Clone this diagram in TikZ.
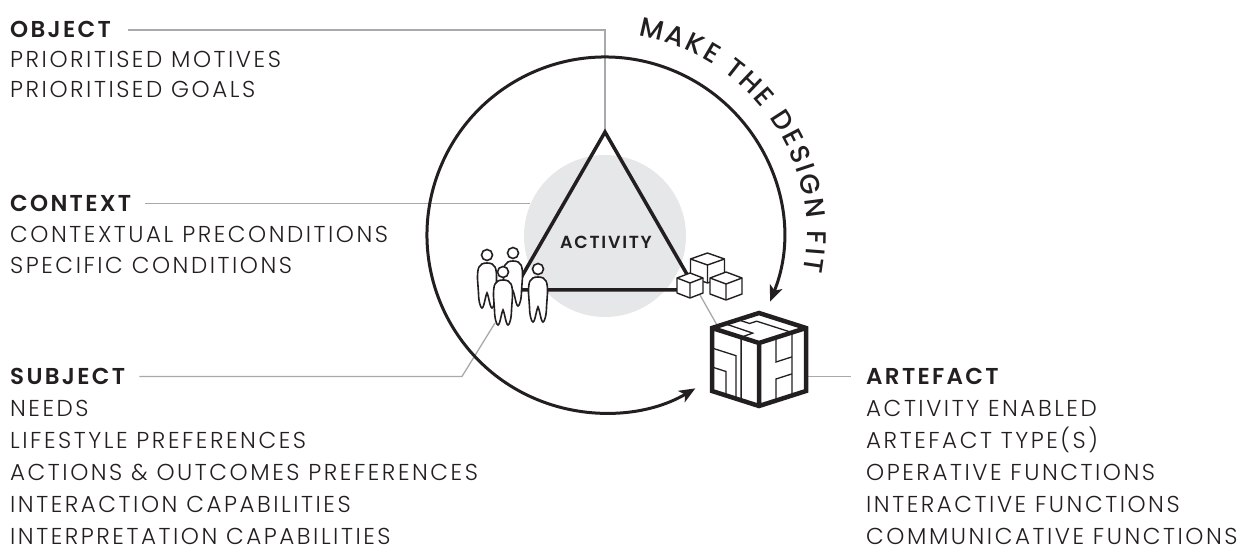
\documentclass[tikz,border=0pt]{standalone}
\usepackage{fontspec}
\IfFontExistsTF{Poppins Light}{\setmainfont{Poppins Light}[LetterSpace=11]}{\setmainfont{Poppins}[LetterSpace=11]}
\IfFontExistsTF{Poppins SemiBold}{\newfontfamily\headfont{Poppins SemiBold}[LetterSpace=10]}{\newfontfamily\headfont{Poppins}[LetterSpace=10,FakeBold=2]}
\IfFontExistsTF{Poppins Medium}{\newfontfamily\arcfont{Poppins Medium}}{\newfontfamily\arcfont{Poppins}[FakeBold=1]}
\usetikzlibrary{arrows.meta,calc,decorations.text}
\definecolor{ink}{HTML}{231F20}
\definecolor{linkgray}{HTML}{A7A9AC}
\definecolor{discgray}{HTML}{E6E7E8}
% small crate: front top corner, half width, top half height, side height
\def\smallcube(#1,#2)(#3:#4:#5){%
  \filldraw[cube] (#1,#2) ++(-#3,#4) -- ++(#3,#4) -- ++(#3,-#4) -- ++(0,-#5) -- ++(-#3,-#4) -- ++(-#3,#4) -- cycle;
  \draw[cube] (#1,#2) -- ++(-#3,#4) (#1,#2) -- ++(#3,#4) (#1,#2) -- ++(0,-#5);}

\begin{document}
\begin{tikzpicture}[x=1pt, y=1pt,
    head/.style={font=\headfont\fontsize{23}{23}\selectfont, text=ink, inner sep=0, anchor=base west},
    item/.style={font=\fontsize{23}{23}\selectfont, text=ink, inner sep=0, anchor=base west},
    link/.style={draw=linkgray, line width=1.3},
    heavy/.style={draw=ink, line width=3.5, line join=miter},
    cube/.style={draw=ink, fill=white, line width=1.4, line join=round},
    puzzle/.style={draw=ink, line width=1.3},
    figure/.style={draw=ink, fill=white, line width=1.6},
    person/.pic={
      \filldraw[figure] (0,0) circle (5.5);
      \filldraw[figure] (0,-8) .. controls (-9,-8) and (-9.5,-14) .. (-9.5,-24) -- (-8.5,-38)
        .. controls (-8.5,-46) and (-6.5,-53) .. (-5,-53) .. controls (-3,-53) and (-1.5,-40) .. (0,-38)
        .. controls (1.5,-40) and (3,-53) .. (5,-53) .. controls (6.5,-53) and (8.5,-46) .. (8.5,-38)
        -- (9.5,-24) .. controls (9.5,-14) and (9,-8) .. (0,-8) -- cycle;
    }]
  \useasboundingbox (0,0) rectangle (1249,552);

  %%%%% LABELS %%%%%
  \node[head] (object) at (10,514) {OBJECT};
  \node[item] (object1) at ([yshift=-30]object.base west) {PRIORITISED MOTIVES};
  \node[item] (object2) at ([yshift=-30]object1.base west) {PRIORITISED GOALS};

  \node[head] (context) at (10,340.5) {CONTEXT};
  \node[item] (context1) at ([yshift=-31]context.base west) {CONTEXTUAL PRECONDITIONS};
  \node[item] (context2) at ([yshift=-31]context1.base west) {SPECIFIC CONDITIONS};

  \node[head] (subject) at (10,167.5) {SUBJECT};
  \node[item] (subject1) at ([yshift=-32]subject.base west) {NEEDS};
  \node[item] (subject2) at ([yshift=-32]subject1.base west) {LIFESTYLE PREFERENCES};
  \node[item] (subject3) at ([yshift=-32]subject2.base west) {ACTIONS \& OUTCOMES PREFERENCES};
  \node[item] (subject4) at ([yshift=-32]subject3.base west) {INTERACTION CAPABILITIES};
  \node[item] (subject5) at ([yshift=-32]subject4.base west) {INTERPRETATION CAPABILITIES};

  \node[head] (artefact) at (866,167.5) {ARTEFACT};
  \node[item] (artefact1) at ([yshift=-32]artefact.base west) {ACTIVITY ENABLED};
  \node[item] (artefact2) at ([yshift=-32]artefact1.base west) {ARTEFACT TYPE(S)};
  \node[item] (artefact3) at ([yshift=-32]artefact2.base west) {OPERATIVE FUNCTIONS};
  \node[item] (artefact4) at ([yshift=-32]artefact3.base west) {INTERACTIVE FUNCTIONS};
  \node[item] (artefact5) at ([yshift=-32]artefact4.base west) {COMMUNICATIVE FUNCTIONS};

  %%%%% ACTIVITY %%%%%
  \node[circle, fill=discgray, minimum size=162, inner sep=0] (ctx) at (605,316) {};
  \coordinate (apex) at (605,420);
  \coordinate (left) at (514,262);
  \coordinate (right) at (696,262);

  \coordinate (bigT) at (759,239);
  \coordinate (bigL) at (712,224);
  \coordinate (bigR) at (806,224);
  \coordinate (bigF) at (759,209);
  \coordinate (bigBL) at (712,161);
  \coordinate (bigB) at (759,146);
  \coordinate (bigBR) at (806,161);

  \coordinate (subjbend) at (462,0);
  \coordinate (subjfoot) at (495,229);
  \coordinate (crate) at (700,257);

  \draw[link] ([xshift=17]object.east) -| (apex);
  \draw[link] ([xshift=14]context.east) -- (context.east -| ctx.157);
  \draw[link] ([xshift=14]subject.east) -- (subject.east -| subjbend) -- (subjfoot);
  \draw[link] (artefact.west -| bigR) -- ([xshift=-15]artefact.west);
  \draw[link] (crate) -- ($(bigL)!0.12!(bigT)$);

  \draw[heavy] (left) -- (apex) -- (right) -- cycle;
  \node[font=\headfont\fontsize{17.5}{17.5}\selectfont, text=ink] (activity) at (606,310) {ACTIVITY};

  % make the design fit
  \draw[heavy, line width=3, {Stealth[length=16pt,width=13pt,inset=4pt]}-{Stealth[length=16pt,width=13pt,inset=4pt]}]
    (605,317) ++(-22:178) arc[start angle=-22, end angle=300.5, radius=178];
  \path[decorate, decoration={text along path, text align={fit to path},
      text={|\arcfont\fontsize{27}{27}\selectfont\color{ink}|MAKE THE DESIGN FIT}}]
    (605,317) ++(80.5:202) arc[start angle=80.5, end angle=-10.5, radius=202];

  %%%%% SUBJECT %%%%%
  \pic at (487,297) {person};
  \pic at (513,299) {person};
  \pic at (503,280) {person};
  \pic at (538,283) {person};

  %%%%% ARTEFACTS %%%%%
  \smallcube(707.5,287)(17:6:18)
  \smallcube(690,269)(13:5:15)
  \smallcube(726,268)(16:6:16)

  \fill[white] (bigL) -- (bigT) -- (bigR) -- (bigBR) -- (bigB) -- (bigBL) -- cycle;
  \draw[puzzle] (737.9,232.3) -- (749.6,228.5) -- (756.7,230.8) -- (791.9,219.5) -- (791.9,156.5);
  \draw[puzzle] (725.2,228.2) -- (752.7,218.9) -- (741.1,214.7) -- (741.1,151.7);
  \draw[puzzle] (712,204) -- (736,196.3) -- (736,153.3);
  \draw[puzzle] (712,185) -- (726,180.5) -- (726,156.5);
  \draw[puzzle] (776,214.4) -- (776,190) -- (791.9,195.1);
  \draw[puzzle] (791.9,178.1) -- (776,173) -- (776,151.4);
  \draw[heavy, line width=4.5] (bigL) -- (bigT) -- (bigR) -- (bigBR) -- (bigB) -- (bigBL) -- cycle
    (bigL) -- (bigF) -- (bigR) (bigF) -- (bigB);
\end{tikzpicture}
\end{document}
